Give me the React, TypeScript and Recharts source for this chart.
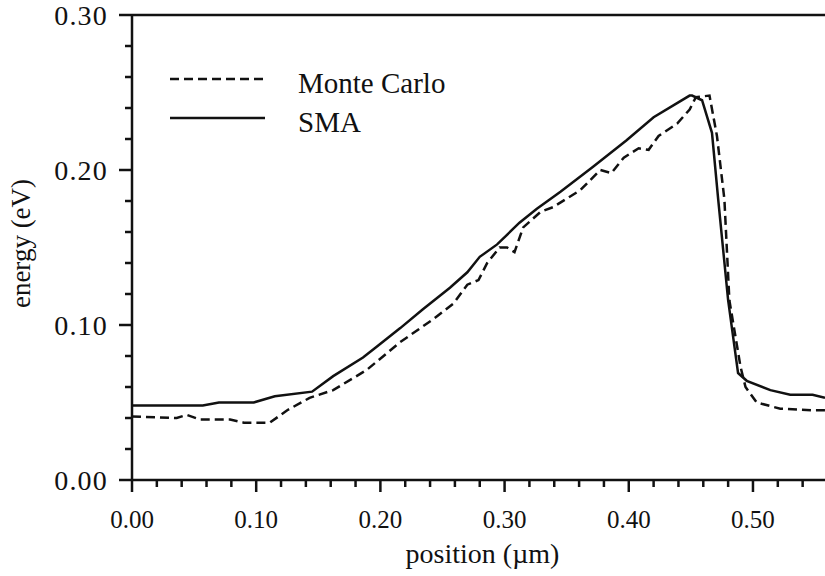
import React from 'react';
import { LineChart, Line, XAxis, YAxis, ReferenceLine, Legend } from 'recharts';

// position (µm) and energy (eV) for each series
const positionMC = [
  0.0, 0.036, 0.044, 0.055, 0.079, 0.09, 0.111, 0.125, 0.143, 0.162, 0.189, 0.216, 0.243,
  0.259, 0.27, 0.279, 0.286, 0.296, 0.302, 0.308, 0.315, 0.329, 0.339, 0.361, 0.377, 0.386,
  0.396, 0.408, 0.416, 0.424, 0.439, 0.449, 0.454, 0.465, 0.471, 0.477, 0.481, 0.49, 0.494,
  0.503, 0.522, 0.548, 0.558,
];
const energyMC = [
  0.041, 0.04, 0.042, 0.039, 0.039, 0.037, 0.037, 0.045, 0.053, 0.058, 0.071, 0.089, 0.104,
  0.114, 0.126, 0.129, 0.14, 0.15, 0.15, 0.147, 0.163, 0.173, 0.176, 0.187, 0.2, 0.198,
  0.208, 0.214, 0.213, 0.222, 0.23, 0.239, 0.247, 0.248, 0.222, 0.181, 0.116, 0.073, 0.06,
  0.05, 0.046, 0.045, 0.045,
];

const positionSMA = [
  0.0, 0.057, 0.07, 0.098, 0.115, 0.145, 0.162, 0.186, 0.197, 0.216, 0.234, 0.256, 0.27,
  0.28, 0.294, 0.312, 0.326, 0.345, 0.371, 0.398, 0.42, 0.449, 0.451, 0.459, 0.467, 0.472,
  0.48, 0.488, 0.495, 0.514, 0.53, 0.548, 0.558,
];
const energySMA = [
  0.048, 0.048, 0.05, 0.05, 0.054, 0.057, 0.067, 0.079, 0.086, 0.098, 0.11, 0.124, 0.134,
  0.144, 0.152, 0.166, 0.175, 0.186, 0.202, 0.219, 0.234, 0.248, 0.248, 0.245, 0.224, 0.181,
  0.116, 0.069, 0.064, 0.058, 0.055, 0.055, 0.053,
];

const seriesNames = ['Monte Carlo', 'SMA'];

const xTicks = [
  0, 0.02, 0.04, 0.06, 0.08, 0.1, 0.12, 0.14, 0.16, 0.18, 0.2, 0.22, 0.24, 0.26, 0.28,
  0.3, 0.32, 0.34, 0.36, 0.38, 0.4, 0.42, 0.44, 0.46, 0.48, 0.5, 0.52, 0.54,
];
const yTicks = [
  0, 0.02, 0.04, 0.06, 0.08, 0.1, 0.12, 0.14, 0.16, 0.18, 0.2, 0.22, 0.24, 0.26, 0.28, 0.3,
];
const xDomain = [0, 0.558];
const yDomain = [0, 0.3];

const xLabel = 'position (\u00b5m)';
const yLabel = 'energy (eV)';

const mcData = positionMC.map((x, i) => ({ x, y: energyMC[i] }));
const smaData = positionSMA.map((x, i) => ({ x, y: energySMA[i] }));

const FONT = '"Liberation Serif", "Times New Roman", serif';
const INK = '#111';

const isMajor = (v: number) => Math.abs(v * 10 - Math.round(v * 10)) < 1e-6;

const XTick = (props: any) => {
  const { x, y, payload } = props;
  const v = payload.value as number;
  const major = isMajor(v);
  return (
    <g>
      <line x1={x} x2={x} y1={y} y2={y + (major ? 12 : 7)} stroke={INK} strokeWidth={2.5} />
      {major && (
        <text x={x} y={y + 48} textAnchor="middle" fontFamily={FONT} fontSize={25} fill={INK}>
          {v.toFixed(2)}
        </text>
      )}
    </g>
  );
};

const YTick = (props: any) => {
  const { x, y, payload } = props;
  const v = payload.value as number;
  const major = isMajor(v);
  return (
    <g>
      <line x1={x - (major ? 13 : 7)} x2={x} y1={y} y2={y} stroke={INK} strokeWidth={2.5} />
      {major && (
        <text
          x={x - 24}
          y={y}
          dy="0.36em"
          textAnchor="end"
          fontFamily={FONT}
          fontSize={28}
          letterSpacing={1.2}
          fill={INK}
        >
          {v.toFixed(2)}
        </text>
      )}
    </g>
  );
};

const renderLegend = (props: any) => {
  const payload = props.payload || [];
  return (
    <svg width={330} height={90} style={{ display: 'block' }}>
      {payload.map((item: any, i: number) => (
        <g key={i}>
          <line
            x1={10}
            x2={105}
            y1={19 + i * 39}
            y2={19 + i * 39}
            stroke={INK}
            strokeWidth={2.5}
            strokeDasharray={item.payload?.strokeDasharray}
          />
          <text x={138} y={33 + i * 39} fontFamily={FONT} fontSize={29} fill={INK}>
            {item.value}
          </text>
        </g>
      ))}
    </svg>
  );
};

const YLabel = (props: any) => {
  const vb = props.viewBox || { x: 0, y: 15, width: 132, height: 465 };
  const cx = vb.x + 30;
  const cy = vb.y + vb.height / 2 - 4;
  return (
    <text
      x={cx}
      y={cy}
      transform={`rotate(-90 ${cx} ${cy})`}
      textAnchor="middle"
      fontFamily={FONT}
      fontSize={27}
      fill={INK}
    >
      {yLabel}
    </text>
  );
};

const XLabel = (props: any) => {
  const vb = props.viewBox || { x: 132, y: 480, width: 693, height: 96 };
  const cx = vb.x + vb.width / 2 + 4;
  const cy = vb.y + 83;
  return (
    <text x={cx} y={cy} textAnchor="middle" fontFamily={FONT} fontSize={28} fill={INK}>
      {xLabel}
    </text>
  );
};

export default function App() {
  return (
    <div style={{ position: 'absolute', left: 0, top: 0, width: 825, height: 576, background: '#fff' }}>
      <LineChart width={825} height={576} margin={{ top: 15, right: 0, bottom: 0, left: 0 }}>
        <XAxis
          dataKey="x"
          type="number"
          domain={xDomain}
          ticks={xTicks}
          interval={0}
          height={96}
          tickSize={0}
          tickMargin={0}
          tickLine={false}
          tick={<XTick />}
          axisLine={{ stroke: INK, strokeWidth: 2.5 }}
          label={<XLabel />}
          allowDataOverflow
        />
        <YAxis
          type="number"
          domain={yDomain}
          ticks={yTicks}
          interval={0}
          width={132}
          tickSize={0}
          tickMargin={0}
          tickLine={false}
          tick={<YTick />}
          axisLine={{ stroke: INK, strokeWidth: 2.5 }}
          label={<YLabel />}
          allowDataOverflow
        />
        <ReferenceLine y={0.3} stroke={INK} strokeWidth={2.5} ifOverflow="visible" />
        <Legend
          layout="horizontal"
          verticalAlign="middle"
          align="center"
          content={renderLegend}
          wrapperStyle={{ left: 160, top: 60, width: 330, height: 90 }}
        />
        <Line
          data={mcData}
          dataKey="y"
          name={seriesNames[0]}
          type="linear"
          stroke={INK}
          strokeWidth={2.5}
          strokeDasharray="9 5"
          dot={false}
          activeDot={false}
          isAnimationActive={false}
        />
        <Line
          data={smaData}
          dataKey="y"
          name={seriesNames[1]}
          type="linear"
          stroke={INK}
          strokeWidth={2.5}
          dot={false}
          activeDot={false}
          isAnimationActive={false}
        />
      </LineChart>
    </div>
  );
}
